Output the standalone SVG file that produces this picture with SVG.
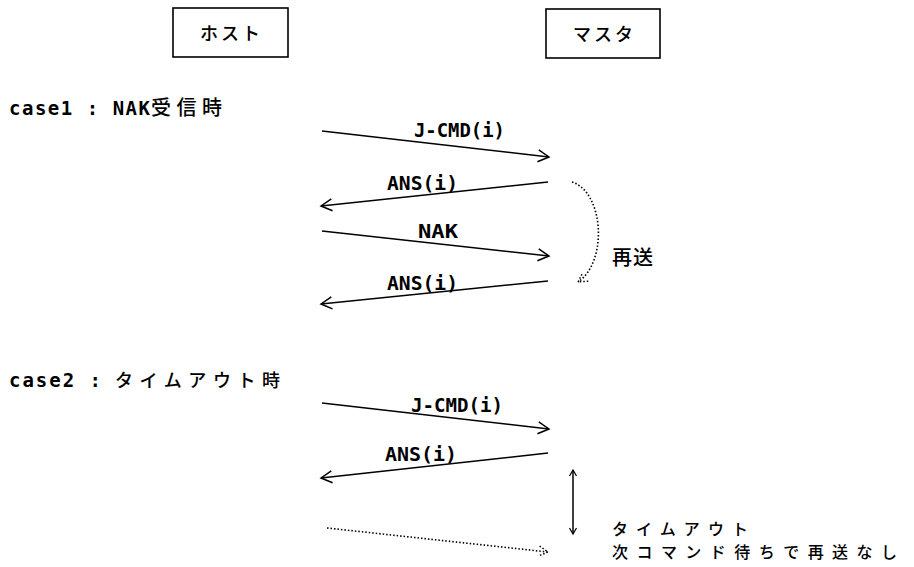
<svg xmlns="http://www.w3.org/2000/svg" width="914" height="567" viewBox="0 0 914 567">
<style>
.box{fill:#fff;stroke:#000;stroke-width:1.6}
.t{font-family:"DejaVu Sans Mono","Noto Sans CJK JP",monospace;font-size:19px;font-weight:bold;fill:#000}
.j{font-family:"Noto Sans CJK JP",sans-serif;font-size:17px;font-weight:500;fill:#000}
.ln{fill:none;stroke:#000;stroke-width:1.5}
.dot{fill:none;stroke:#000;stroke-width:1.6;stroke-dasharray:1.5 2}
</style>
<defs>
<marker id="ah" markerUnits="userSpaceOnUse" markerWidth="16" markerHeight="16" refX="14" refY="8" orient="auto-start-reverse" viewBox="0 0 16 16">
<path d="M3,2 L14,8 L3,14" fill="none" stroke="#000" stroke-width="1.5"/>
</marker>
<marker id="ahd" markerUnits="userSpaceOnUse" markerWidth="16" markerHeight="16" refX="14" refY="8" orient="auto" viewBox="0 0 16 16">
<path d="M5,3 L14,8 L5,13" fill="none" stroke="#000" stroke-width="1.5" stroke-dasharray="1.5 2"/>
</marker>
<marker id="sa" markerUnits="userSpaceOnUse" markerWidth="10" markerHeight="10" refX="8" refY="5" orient="auto-start-reverse" viewBox="0 0 10 10">
<path d="M2,1.5 L8,5 L2,8.5" fill="none" stroke="#000" stroke-width="1.2"/>
</marker>
</defs>

<g id="host">
<rect class="box" x="173" y="8" width="115" height="49"/>
<text class="j" x="200" y="40" style="font-size:18px" textLength="60" lengthAdjust="spacing">ホスト</text>
</g>
<g id="master">
<rect class="box" x="546" y="9" width="114" height="49"/>
<text class="j" x="573" y="41" style="font-size:18px" textLength="60" lengthAdjust="spacing">マスタ</text>
</g>

<g id="case1-label">
<text class="t" x="9" y="115" textLength="141" lengthAdjust="spacing">case1 : NAK</text>
<text class="j" x="151" y="115" style="font-size:20px" textLength="71" lengthAdjust="spacing">受信時</text>
</g>
<g id="case2-label">
<text class="t" x="9" y="387" textLength="92" lengthAdjust="spacing">case2 :</text>
<text class="j" x="115" y="387" style="font-size:18px" textLength="165" lengthAdjust="spacing">タイムアウト時</text>
</g>

<g id="resend-label">
<text class="j" x="612" y="265" style="font-size:20px" textLength="41" lengthAdjust="spacing">再送</text>
</g>
<g id="timeout-label">
<text class="j" x="612" y="535" style="font-size:16px" textLength="136" lengthAdjust="spacing">タイムアウト</text>
<text class="j" x="612" y="558" style="font-size:16px" textLength="285" lengthAdjust="spacing">次コマンド待ちで再送なし</text>
</g>

<g id="connectors">
<line class="ln" x1="322" y1="131" x2="549" y2="157" marker-end="url(#ah)"/>
<text class="t" x="414" y="137" textLength="91" lengthAdjust="spacingAndGlyphs">J-CMD(i)</text>
<line class="ln" x1="548" y1="182" x2="321" y2="206" marker-end="url(#ah)"/>
<text class="t" x="387" y="190" textLength="71" lengthAdjust="spacingAndGlyphs">ANS(i)</text>
<line class="ln" x1="322" y1="231" x2="549" y2="256" marker-end="url(#ah)"/>
<text class="t" x="418" y="238" textLength="40" lengthAdjust="spacingAndGlyphs">NAK</text>
<line class="ln" x1="548" y1="281" x2="321" y2="304" marker-end="url(#ah)"/>
<text class="t" x="387" y="290" textLength="71" lengthAdjust="spacingAndGlyphs">ANS(i)</text>
<path class="dot" d="M572,182 C604,192 608,262 578,282" marker-end="url(#ahd)"/>

<line class="ln" x1="322" y1="403" x2="549" y2="429" marker-end="url(#ah)"/>
<text class="t" x="411" y="412" textLength="92" lengthAdjust="spacingAndGlyphs">J-CMD(i)</text>
<line class="ln" x1="548" y1="453" x2="321" y2="478" marker-end="url(#ah)"/>
<text class="t" x="385" y="461" textLength="72" lengthAdjust="spacingAndGlyphs">ANS(i)</text>
<line class="dot" x1="327" y1="528" x2="548" y2="552" marker-end="url(#ahd)"/>
<line class="ln" x1="573" y1="470" x2="573" y2="534" stroke-width="1.2" marker-start="url(#sa)" marker-end="url(#sa)"/>
</g>
</svg>
